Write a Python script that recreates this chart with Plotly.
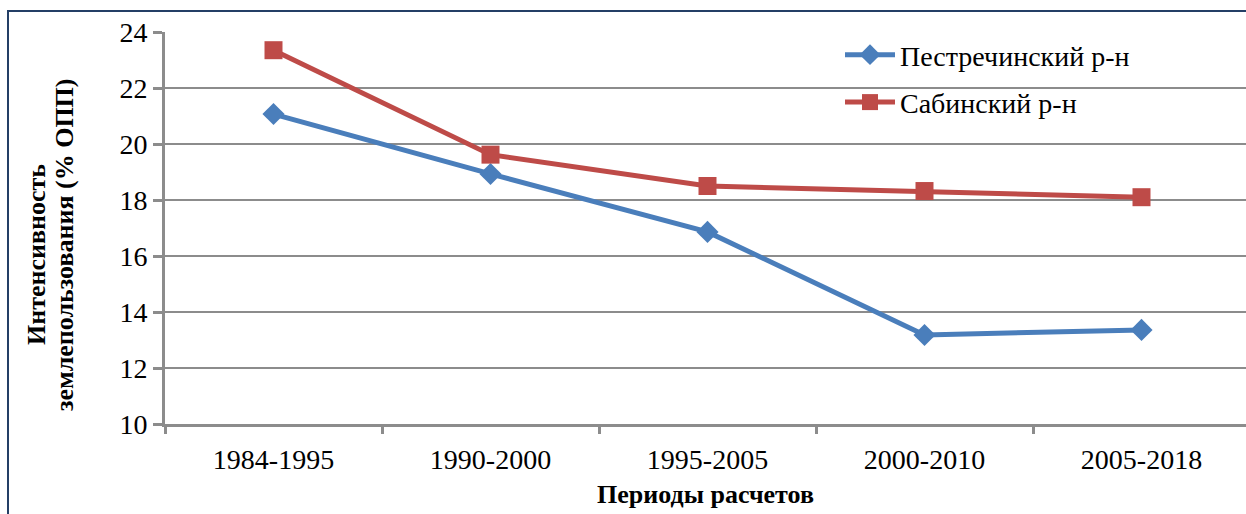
import plotly.graph_objects as go

periods = ["1984-1995", "1990-2000", "1995-2005", "2000-2010", "2005-2018"]
pestrech = [21.07, 18.93, 16.86, 13.18, 13.36]
sabinsk = [23.35, 19.62, 18.5, 18.32, 18.1]
y_ticks = [10, 12, 14, 16, 18, 20, 22, 24]

W, H = 1246, 514
L, T, R, B = 165, 32, 0, 90
pw, ph = W - L - R, H - T - B

xs = list(range(len(periods)))
font = "Liberation Serif"
grid = "#8c8c8c"
FS = 28

fig = go.Figure()
fig.add_trace(go.Scatter(
    x=xs, y=pestrech, name="Пестречинский р-н", mode="lines+markers",
    line=dict(color="#4a7ebb", width=5),
    marker=dict(symbol="diamond", size=17, color="#4a7ebb"),
    legendgroup="a"))
fig.add_trace(go.Scatter(
    x=xs, y=sabinsk, name="Сабинский р-н", mode="lines+markers",
    line=dict(color="#be4b48", width=5),
    marker=dict(symbol="square", size=18, color="#be4b48"),
    legendgroup="b"))

fig.update_layout(
    width=W, height=H,
    margin=dict(l=L, r=R, t=T, b=B),
    paper_bgcolor="white", plot_bgcolor="white",
    font=dict(family=font, size=FS, color="black"),
    showlegend=True,
    legend=dict(x=(840 - L) / pw, y=(H - B - 30) / ph, xanchor="left", yanchor="top",
                bgcolor="rgba(0,0,0,0)", font=dict(size=FS, family=font, color="black"),
                tracegroupgap=8, itemwidth=50),
    xaxis=dict(
        range=[-0.5, -0.5 + pw / 217.0],
        tickvals=xs, ticktext=periods, ticks="",
        showgrid=False, zeroline=False,
        showline=True, linecolor=grid, linewidth=3,
        tickfont=dict(size=FS, family=font, color="black"),
        ticklabelstandoff=8,
        minor=dict(tick0=-0.5, dtick=1, ticks="outside", ticklen=7,
                   tickcolor=grid, tickwidth=3, showgrid=False),
        title=dict(text="<b>Периоды расчетов</b>", font=dict(size=26, family=font, color="black"), standoff=12),
        fixedrange=True,
    ),
    yaxis=dict(
        range=[10, 24], tickvals=y_ticks,
        showgrid=True, gridcolor=grid, gridwidth=2,
        zeroline=False, showline=True, linecolor=grid, linewidth=3,
        ticks="outside", ticklen=9, tickcolor=grid, tickwidth=3,
        tickfont=dict(size=FS, family=font, color="black"),
    ),
)

for txt, xc, yc in [("<b>Интенсивность</b>", 36, 255), ("<b>землепользования (% ОПП)</b>", 64, 245)]:
    fig.add_annotation(
        text=txt, xref="paper", yref="paper", x=(xc - L) / pw, y=(H - B - yc) / ph,
        textangle=-90, showarrow=False, xanchor="center", yanchor="middle",
        font=dict(size=26, family=font, color="black"))

fig.add_shape(type="rect", xref="paper", yref="paper",
              x0=(8 - L) / pw, x1=1.05, y0=-0.4, y1=(H - B - 11) / ph,
              line=dict(color="#243f66", width=2), layer="above")

fig.write_html("out.html")
